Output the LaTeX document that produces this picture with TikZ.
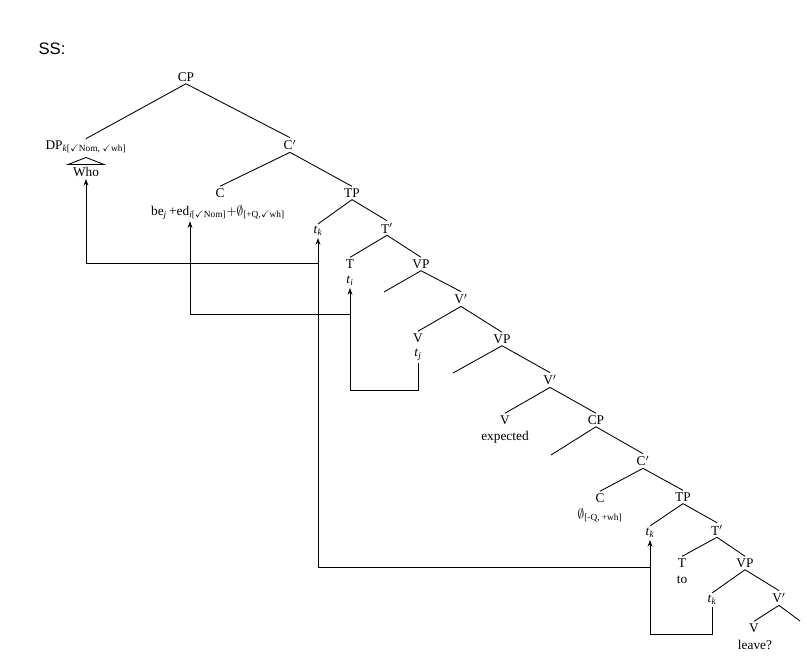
\documentclass[tikz,border=0pt]{standalone}
\usepackage{amssymb}
\usepackage{fontspec}
\setmainfont{Liberation Serif}
\newfontfamily\sslabel{Liberation Sans}
\usetikzlibrary{arrows.meta}
\newcommand{\tr}[1]{\textit{t}\textsubscript{\textit{#1}}}
\newcommand{\ck}{$\checkmark$}
\begin{document}
\begin{tikzpicture}[x=0.75pt,y=-0.75pt,
  lab/.style={inner sep=1.5pt, font=\normalsize},
  edge/.style={line width=0.65pt},
  mv/.style={line width=0.65pt, -{Stealth[length=5pt,width=3.6pt]}}]
\useasboundingbox (0,0) rectangle (807,656);
\node[font=\sslabel\fontsize{12.5}{14}\selectfont, inner sep=0pt] (ss) at (52,49) {SS:};
% nodes
\node[lab] (CP) at (186,77) {CP};
\node[lab] (DP) at (86,147) {DP\textsubscript{\textit{k}[\ck Nom, \ck wh]}};
\node[lab] (Who) at (86,172) {Who};
\node[lab] (Cb) at (290,145) {C$'$};
\node[lab] (C) at (220,193) {C};
\node[lab] (be) at (218,212) {be\textsubscript{\textit{j}}\,+ed\textsubscript{\textit{i}[\ck Nom]}$+\emptyset$\textsubscript{[+Q,\ck wh]}};
\node[lab] (TP) at (352,193) {TP};
\node[lab] (tk1) at (318,231) {\tr{k}};
\node[lab] (Tb) at (387,228) {T$'$};
\node[lab] (T) at (350,264) {T};
\node[lab] (ti) at (350,281) {\tr{i}};
\node[lab] (VP1) at (421,264) {VP};
\coordinate (e1) at (384,292);
\node[lab] (Vb1) at (461,299) {V$'$};
\node[lab] (V1) at (418,338) {V};
\node[lab] (tj) at (418,355) {\tr{j}};
\node[lab] (VP2) at (502,339) {VP};
\coordinate (e2) at (453,373);
\node[lab] (Vb2) at (550,380) {V$'$};
\node[lab] (V2) at (505,420) {V};
\node[lab] (exp) at (505,437) {expected};
\node[lab] (CP2) at (596,420) {CP};
\coordinate (e3) at (551,455);
\node[lab] (Cb2) at (643,461) {C$'$};
\node[lab] (C2) at (600,498) {C};
\node[lab] (null) at (600,515) {$\emptyset$\textsubscript{[-Q, +wh]}};
\node[lab] (TP2) at (683,497) {TP};
\node[lab] (tk2) at (650,533) {\tr{k}};
\node[lab] (Tb2) at (717,530) {T$'$};
\node[lab] (T2) at (682,563) {T};
\node[lab] (to) at (682,580) {to};
\node[lab] (VP3) at (745,563) {VP};
\node[lab] (tk3) at (712,600) {\tr{k}};
\node[lab] (Vb3) at (779,598) {V$'$};
\node[lab] (V3) at (754,628) {V};
\node[lab] (leave) at (755,645) {leave?};
\coordinate (e4) at (800,621);
% tree edges
\draw[edge] (CP.south) -- (DP.north);
\draw[edge] (CP.south) -- (Cb.north);
\draw[edge] (Cb.south) -- (C.north);
\draw[edge] (Cb.south) -- (TP.north);
\draw[edge] (TP.south) -- (tk1.north);
\draw[edge] (TP.south) -- (Tb.north);
\draw[edge] (Tb.south) -- (T.north);
\draw[edge] (Tb.south) -- (VP1.north);
\draw[edge] (VP1.south) -- (e1);
\draw[edge] (VP1.south) -- (Vb1.north);
\draw[edge] (Vb1.south) -- (V1.north);
\draw[edge] (Vb1.south) -- (VP2.north);
\draw[edge] (VP2.south) -- (e2);
\draw[edge] (VP2.south) -- (Vb2.north);
\draw[edge] (Vb2.south) -- (V2.north);
\draw[edge] (Vb2.south) -- (CP2.north);
\draw[edge] (CP2.south) -- (e3);
\draw[edge] (CP2.south) -- (Cb2.north);
\draw[edge] (Cb2.south) -- (C2.north);
\draw[edge] (Cb2.south) -- (TP2.north);
\draw[edge] (TP2.south) -- (tk2.north);
\draw[edge] (TP2.south) -- (Tb2.north);
\draw[edge] (Tb2.south) -- (T2.north);
\draw[edge] (Tb2.south) -- (VP3.north);
\draw[edge] (VP3.south) -- (tk3.north);
\draw[edge] (VP3.south) -- (Vb3.north);
\draw[edge] (Vb3.south) -- (V3.north);
\draw[edge] (Vb3.south) -- (e4);
% triangle over Who
\draw[edge] (86,157.5) -- (68,164.5) -- (104,164.5) -- cycle;
% movement
\coordinate (y634) at (0,634);
\coordinate (y567) at (0,567);
\coordinate (y263) at (0,263);
\coordinate (y390) at (0,390);
\coordinate (y314) at (0,314);
\coordinate (x190) at (190,0);
\draw[mv] (tk3.south) -- (tk3.south |- y634) -| (tk2.south);
\draw[mv] (tk2.south |- y567) -| (tk1.south);
\draw[mv] (tk1.south |- y263) -| (Who.south);
\draw[mv] (tj.south) -- (tj.south |- y390) -| (ti.south);
\draw[mv] (ti.south |- y314) -| (be.south -| x190);
\end{tikzpicture}
\end{document}
